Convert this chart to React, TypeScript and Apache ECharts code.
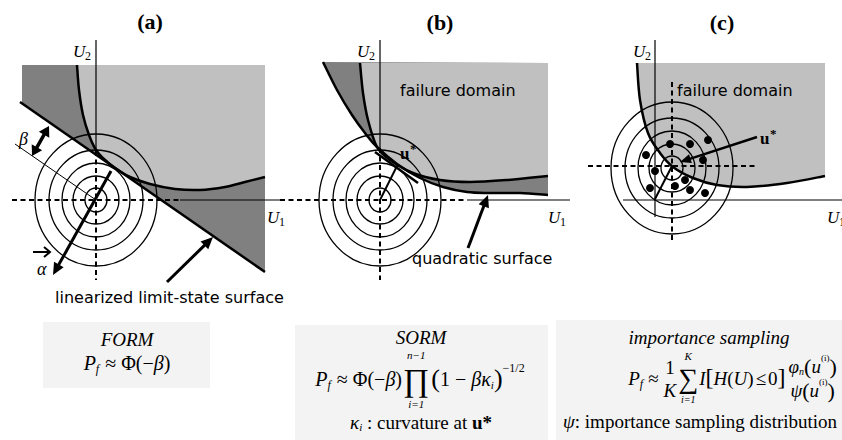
import React, { useEffect, useRef } from 'react';
import * as echarts from 'echarts';

type Pt = [number, number];

const W = 842;
const H = 440;
const LIGHT = '#c0c0c0';
const DARK = '#808080';
const BOX = '#f3f3f3';
const SERIF = '"Liberation Serif", "Times New Roman", serif';
const SANS = '"DejaVu Sans", Verdana, sans-serif';

// ---------- panel (a): FORM ----------
const A_O: Pt = [96, 200];
const A_LIMIT: Pt[] = [[77, 65], [79, 90], [83, 115], [89, 135], [96, 150], [104, 159], [115, 168], [130, 177], [150, 184], [175, 189], [200, 190], [225, 187], [245, 182], [265, 177]];
const A_LINEAR: Pt[] = [[20, 102], [265, 272]];
const A_DARK: Pt[] = [[22, 65], [265, 65], [265, 272], [22, 103]];
const A_CORNER: Pt[] = [[265, 65]];

// ---------- panel (b): SORM ----------
const B_O: Pt = [380, 200];
const B_LIMIT: Pt[] = [[360, 63], [363, 93], [368, 120], [377, 147], [390, 160], [413, 173], [440, 180], [470, 182], [507, 180], [548, 176]];
const B_QUAD: Pt[] = [[323, 62], [337, 90], [352, 115], [365, 133], [377, 147], [397, 164], [420, 178], [443, 187], [467, 192], [490, 193], [520, 193], [548, 195]];
const B_CORNER: Pt[] = [[548, 63]];

// ---------- panel (c): importance sampling ----------
const C_U: Pt = [672, 166];
const C_RING: Pt = [672, 168];
const C_LIMIT: Pt[] = [[637, 63], [640, 100], [648, 133], [660, 153], [673, 167], [693, 178], [717, 185], [747, 187], [787, 183], [825, 176]];
const C_CORNER: Pt[] = [[825, 63]];
const SAMPLES: Pt[] = [[708, 140], [670, 144], [690, 144], [646, 155], [703, 160], [655, 171], [685, 180], [675, 186], [650, 188], [690, 190], [705, 193]];

const RING_RX = [11, 23, 34, 47, 61];
const RING_RY = [12, 24, 37, 50, 66];

// ---------- boxes ----------
const BOXES: Pt[][] = [
  [[43, 322], [210, 322], [210, 388], [43, 388]],
  [[295, 325], [548, 325], [548, 440], [295, 440]],
  [[556, 320], [842, 320], [842, 440], [556, 440]],
];

type Shape =
  | { kind: 'poly'; pts: Pt[]; fill: string }
  | { kind: 'region'; curve: Pt[]; corners: Pt[]; fill: string }
  | { kind: 'rings'; c: Pt }
  | { kind: 'seg'; a: Pt; b: Pt; w: number; dash?: boolean }
  | { kind: 'curve'; pts: Pt[]; w: number }
  | { kind: 'arrow'; a: Pt; b: Pt; w: number; head: [number, number]; both?: boolean }
  | { kind: 'vec'; a: Pt; b: Pt };

const SHAPES: Shape[] = [
  ...BOXES.map((pts) => ({ kind: 'poly', pts, fill: BOX } as Shape)),
  { kind: 'poly', pts: A_DARK, fill: DARK },
  { kind: 'region', curve: A_LIMIT, corners: A_CORNER, fill: LIGHT },
  { kind: 'region', curve: B_QUAD, corners: B_CORNER, fill: DARK },
  { kind: 'region', curve: B_LIMIT, corners: B_CORNER, fill: LIGHT },
  { kind: 'region', curve: C_LIMIT, corners: C_CORNER, fill: LIGHT },
  { kind: 'rings', c: A_O },
  { kind: 'rings', c: B_O },
  { kind: 'rings', c: C_RING },
  // axes (a)
  { kind: 'seg', a: [96, 40], b: [96, 151], w: 1.2 },
  { kind: 'seg', a: [96, 151], b: [96, 280], w: 2, dash: true },
  { kind: 'seg', a: [12, 200], b: [180, 200], w: 2, dash: true },
  { kind: 'seg', a: [180, 200], b: [283, 200], w: 1.2 },
  // axes (b)
  { kind: 'seg', a: [380, 40], b: [380, 148], w: 1.2 },
  { kind: 'seg', a: [380, 148], b: [380, 280], w: 2, dash: true },
  { kind: 'seg', a: [280, 200], b: [467, 200], w: 2, dash: true },
  { kind: 'seg', a: [467, 200], b: [570, 200], w: 1.2 },
  // axes (c)
  { kind: 'seg', a: [655, 40], b: [655, 217], w: 1.2 },
  { kind: 'seg', a: [623, 200], b: [842, 200], w: 1.2 },
  { kind: 'seg', a: [672, 82], b: [672, 243], w: 2, dash: true },
  { kind: 'seg', a: [588, 166], b: [757, 166], w: 2, dash: true },
  // limit-state curves
  { kind: 'curve', pts: A_LIMIT, w: 2.5 },
  { kind: 'seg', a: A_LINEAR[0], b: A_LINEAR[1], w: 2.5 },
  { kind: 'curve', pts: B_LIMIT, w: 2.5 },
  { kind: 'curve', pts: B_QUAD, w: 2.5 },
  { kind: 'curve', pts: C_LIMIT, w: 2.5 },
  // construction
  { kind: 'seg', a: [15, 144], b: A_O, w: 1 },
  { kind: 'arrow', a: [32, 156], b: [49, 126], w: 3.5, head: [10, 12], both: true },
  { kind: 'arrow', a: [111, 171], b: [53, 275], w: 3, head: [12, 11] },
  { kind: 'vec', a: [33, 252], b: [50, 252] },
  { kind: 'arrow', a: [167, 282], b: [213, 237], w: 3, head: [12, 11] },
  { kind: 'seg', a: [375, 152], b: [418, 183], w: 2.5 },
  { kind: 'seg', a: B_O, b: [398, 164], w: 2 },
  { kind: 'arrow', a: [468, 248], b: [488, 195], w: 3, head: [12, 11] },
  { kind: 'seg', a: C_U, b: [655, 199], w: 2 },
  { kind: 'arrow', a: [757, 137], b: [680, 162], w: 2.5, head: [11, 9] },
];

// ---------- text content ----------
const TITLES: [string, number, number][] = [['(a)', 150, 21], ['(b)', 440, 22], ['(c)', 722, 22]];
const U2_POS: Pt[] = [[73, 51], [357, 51], [633, 51]];
const U1_POS: Pt[] = [[267, 217], [548, 217], [827, 217]];
const USTAR_POS: Pt[] = [[400, 153], [760, 138]];
const SANS_LABELS: [string, number, number][] = [
  ['failure domain', 400, 90],
  ['failure domain', 677, 90],
  ['linearized limit-state surface', 55, 297],
  ['quadratic surface', 412, 258],
];

type TNode = { t: string; s?: number; i?: boolean; b?: boolean; dy?: number; gap?: number };
type Node = TNode | { stack: TNode[]; gap?: number } | { frac: [Node[], Node[]]; nDy: number; dDy: number; gap?: number };

const PF: Node[] = [
  { t: 'P', i: true },
  { t: 'f', s: 12, i: true, dy: 6 },
  { t: '≈', gap: 6 },
];
const FORM_EQ: Node[] = [...PF, { t: 'Φ(−', gap: 5 }, { t: 'β', i: true }, { t: ')' }];
const SORM_EQ: Node[] = [
  ...PF,
  { t: 'Φ(−', gap: 5 }, { t: 'β', i: true }, { t: ')' },
  { stack: [{ t: 'n−1', s: 11, i: true, dy: -24 }, { t: '∏', s: 32, dy: 1 }, { t: 'i=1', s: 11, i: true, dy: 25 }], gap: 1 },
  { t: '(', s: 26, gap: 2, dy: -1 }, { t: '1 − ' }, { t: 'β', i: true }, { t: 'κ', i: true },
  { t: 'i', s: 11, i: true, dy: 6 }, { t: ')', s: 26, dy: -1 }, { t: '−1/2', s: 12, dy: -11 },
];
const IS_EQ: Node[] = [
  { t: 'P', i: true, s: 19 },
  { t: 'f', s: 12, i: true, dy: 6 },
  { t: '≈', gap: 5, s: 19 },
  { frac: [[{ t: '1', s: 19 }], [{ t: 'K', i: true, s: 19 }]], nDy: -11, dDy: 12, gap: 4 },
  { stack: [{ t: 'K', s: 11, i: true, dy: -22 }, { t: '∑', s: 28, dy: 0 }, { t: 'i=1', s: 10, i: true, dy: 21 }], gap: 1 },
  { t: 'I', i: true, gap: 1, s: 19 }, { t: '[', s: 24, dy: -1 }, { t: 'H', i: true, s: 19 }, { t: '(', s: 19 }, { t: 'U', i: true, s: 19 },
  { t: ')', s: 19 }, { t: '≤', s: 19, gap: 2 }, { t: '0', s: 19, gap: 2 }, { t: ']', s: 24, dy: -1 },
  {
    frac: [
      [{ t: 'φ', i: true, s: 19 }, { t: 'n', s: 10, i: true, dy: 5 }, { t: '(', s: 22 }, { t: 'u', i: true, s: 19 }, { t: '(i)', s: 9, dy: -8 }, { t: ')', s: 22 }],
      [{ t: 'ψ', i: true, s: 19 }, { t: '(', s: 22 }, { t: 'u', i: true, s: 19 }, { t: '(i)', s: 9, dy: -8 }, { t: ')', s: 22 }],
    ],
    nDy: -12, dDy: 12, gap: 2,
  },
];
const KAPPA_LINE: Node[] = [{ t: 'κ', i: true, s: 19 }, { t: 'i', s: 11, i: true, dy: 5 }, { t: ' : curvature at ', s: 19 }, { t: 'u*', s: 19, b: true }];
const PSI_LINE: Node[] = [{ t: 'ψ', i: true, s: 19 }, { t: ': importance sampling distribution', s: 19 }];

const BASE = 20;

// ---------- helpers ----------
const measureCtx = typeof document !== 'undefined' ? document.createElement('canvas').getContext('2d') : null;
function fontOf(n: TNode) {
  return `${n.i ? 'italic ' : ''}${n.b ? 'bold ' : ''}${n.s || BASE}px ${SERIF}`;
}
function tw(n: TNode) {
  if (!measureCtx) return n.t.length * (n.s || BASE) * 0.5;
  measureCtx.font = fontOf(n);
  return measureCtx.measureText(n.t).width;
}
function nodeW(n: Node): number {
  if ('t' in n) return tw(n);
  if ('stack' in n) return Math.max(...n.stack.map(tw));
  return Math.max(rowW(n.frac[0]), rowW(n.frac[1])) + 2;
}
function rowW(r: Node[]): number {
  return r.reduce((a, n) => a + (n.gap || 0) + nodeW(n), 0);
}
function textEl(x: number, y: number, text: string, font: string, align = 'left') {
  return {
    type: 'text', x, y, z: 100, silent: true,
    style: { text, font, fill: '#000', align, verticalAlign: 'middle', textAlign: align, textVerticalAlign: 'middle' },
  };
}
function renderRow(r: Node[], x: number, y: number, out: any[]) {
  for (const n of r) {
    x += n.gap || 0;
    renderNode(n, x, y, out);
    x += nodeW(n);
  }
}
function renderNode(n: Node, x: number, y: number, out: any[]) {
  if ('t' in n) {
    out.push(textEl(x, y + (n.dy || 0), n.t, fontOf(n)));
  } else if ('stack' in n) {
    const w = nodeW(n);
    n.stack.forEach((c) => out.push(textEl(x + (w - tw(c)) / 2, y + (c.dy || 0), c.t, fontOf(c))));
  } else {
    const w = nodeW(n);
    renderRow(n.frac[0], x + (w - rowW(n.frac[0])) / 2, y + n.nDy, out);
    renderRow(n.frac[1], x + (w - rowW(n.frac[1])) / 2, y + n.dDy, out);
  }
}
function centeredRow(r: Node[], cx: number, y: number, out: any[]) {
  renderRow(r, cx - rowW(r) / 2, y, out);
}

function smoothPath(p: number[][]) {
  const f = (v: number) => v.toFixed(2);
  let d = `M${f(p[0][0])} ${f(p[0][1])}`;
  for (let i = 0; i < p.length - 1; i++) {
    const p0 = p[i - 1] || p[i];
    const p1 = p[i];
    const p2 = p[i + 1];
    const p3 = p[i + 2] || p2;
    const c1 = [p1[0] + (p2[0] - p0[0]) / 6, p1[1] + (p2[1] - p0[1]) / 6];
    const c2 = [p2[0] - (p3[0] - p1[0]) / 6, p2[1] - (p3[1] - p1[1]) / 6];
    d += `C${f(c1[0])} ${f(c1[1])} ${f(c2[0])} ${f(c2[1])} ${f(p2[0])} ${f(p2[1])}`;
  }
  return d;
}

function head(tip: number[], from: number[], len: number, wid: number) {
  const dx = tip[0] - from[0];
  const dy = tip[1] - from[1];
  const L = Math.hypot(dx, dy);
  const ux = dx / L, uy = dy / L;
  const nx = -uy, ny = ux;
  const bx = tip[0] - ux * len, by = tip[1] - uy * len;
  return {
    poly: [[tip[0], tip[1]], [bx + (nx * wid) / 2, by + (ny * wid) / 2], [bx - (nx * wid) / 2, by - (ny * wid) / 2]],
    base: [bx + ux * 1.5, by + uy * 1.5],
  };
}

function renderItem(params: any, api: any) {
  const s = SHAPES[params.dataIndex];
  const c = (p: Pt) => api.coord(p) as number[];
  const black = '#000';
  switch (s.kind) {
    case 'poly':
      return { type: 'polygon', shape: { points: s.pts.map(c) }, style: { fill: s.fill } };
    case 'region': {
      let d = smoothPath(s.curve.map(c));
      s.corners.forEach((p) => { const q = c(p); d += `L${q[0]} ${q[1]}`; });
      d += 'Z';
      return { type: 'path', shape: { pathData: d }, style: { fill: s.fill } };
    }
    case 'curve':
      return { type: 'path', shape: { pathData: smoothPath(s.pts.map(c)) }, style: { fill: 'none', stroke: black, lineWidth: s.w } };
    case 'rings': {
      const cc = c(s.c);
      return {
        type: 'group',
        children: RING_RX.map((rx, i) => {
          const sz = api.size([rx, RING_RY[i]]);
          return { type: 'ellipse', shape: { cx: cc[0], cy: cc[1], rx: sz[0], ry: sz[1] }, style: { fill: 'none', stroke: black, lineWidth: 1.3 } };
        }),
      };
    }
    case 'seg': {
      const a = c(s.a), b = c(s.b);
      return {
        type: 'line', shape: { x1: a[0], y1: a[1], x2: b[0], y2: b[1] },
        style: { stroke: black, lineWidth: s.w, lineDash: s.dash ? [5, 3.5] : null },
      };
    }
    case 'arrow': {
      const a = c(s.a), b = c(s.b);
      const hb = head(b, a, s.head[0], s.head[1]);
      const children: any[] = [];
      let start = a;
      if (s.both) {
        const ha = head(a, b, s.head[0], s.head[1]);
        start = ha.base;
        children.push({ type: 'polygon', shape: { points: ha.poly }, style: { fill: black } });
      }
      children.push({ type: 'line', shape: { x1: start[0], y1: start[1], x2: hb.base[0], y2: hb.base[1] }, style: { stroke: black, lineWidth: s.w } });
      children.push({ type: 'polygon', shape: { points: hb.poly }, style: { fill: black } });
      return { type: 'group', children };
    }
    case 'vec': {
      const a = c(s.a), b = c(s.b);
      return {
        type: 'group',
        children: [
          { type: 'line', shape: { x1: a[0], y1: a[1], x2: b[0], y2: b[1] }, style: { stroke: black, lineWidth: 2 } },
          { type: 'polyline', shape: { points: [[b[0] - 6, b[1] - 5], b, [b[0] - 6, b[1] + 5]] }, style: { fill: 'none', stroke: black, lineWidth: 2 } },
        ],
      };
    }
  }
  return null;
}

function buildGraphic() {
  const out: any[] = [];
  TITLES.forEach(([t, x, y]) => out.push(textEl(x, y, t, `bold 22px ${SERIF}`, 'center')));
  U2_POS.forEach(([x, y]) => {
    out.push(textEl(x, y, 'U', `italic 17px ${SERIF}`));
    out.push(textEl(x + 12, y + 5, '2', `12px ${SERIF}`));
  });
  U1_POS.forEach(([x, y]) => {
    out.push(textEl(x, y, 'U', `italic 17px ${SERIF}`));
    out.push(textEl(x + 12, y + 5, '1', `12px ${SERIF}`));
  });
  USTAR_POS.forEach(([x, y]) => {
    out.push(textEl(x, y, 'u', `bold 17px ${SERIF}`));
    out.push(textEl(x + 10, y - 5, '*', `bold 13px ${SERIF}`));
  });
  out.push(textEl(19, 139, 'β', `italic 18px ${SERIF}`));
  out.push(textEl(37, 269, 'α', `italic 18px ${SERIF}`));
  SANS_LABELS.forEach(([t, x, y]) => out.push(textEl(x, y, t, `16px ${SANS}`)));

  out.push(textEl(127, 339, 'FORM', `italic 19px ${SERIF}`, 'center'));
  centeredRow(FORM_EQ, 127, 363, out);
  out.push(textEl(421, 337, 'SORM', `italic 19px ${SERIF}`, 'center'));
  centeredRow(SORM_EQ, 420, 379, out);
  centeredRow(KAPPA_LINE, 421, 422, out);
  out.push(textEl(709, 337, 'importance sampling', `italic 19px ${SERIF}`, 'center'));
  centeredRow(IS_EQ, 733, 378, out);
  renderRow(PSI_LINE, 563, 421, out);
  return out;
}

export default function App() {
  const ref = useRef<HTMLDivElement>(null);
  useEffect(() => {
    document.body.style.margin = '0';
    if (!ref.current) return;
    const chart = echarts.init(ref.current, null, { renderer: 'svg' });
    chart.setOption({
      animation: false,
      backgroundColor: '#ffffff',
      grid: { left: 0, top: 0, width: W, height: H },
      xAxis: { type: 'value', min: 0, max: W, show: false },
      yAxis: { type: 'value', min: 0, max: H, inverse: true, show: false },
      series: [
        {
          type: 'custom',
          renderItem,
          data: SHAPES.map((_, i) => [i, 0]),
          silent: true,
          clip: false,
          z: 2,
        },
        {
          type: 'scatter',
          data: SAMPLES,
          symbol: 'circle',
          symbolSize: 8,
          itemStyle: { color: '#000', opacity: 1 },
          silent: true,
          z: 3,
        },
      ],
      graphic: buildGraphic(),
    });
    return () => chart.dispose();
  }, []);
  return <div ref={ref} style={{ position: 'fixed', left: 0, top: 0, width: W, height: H }} />;
}
